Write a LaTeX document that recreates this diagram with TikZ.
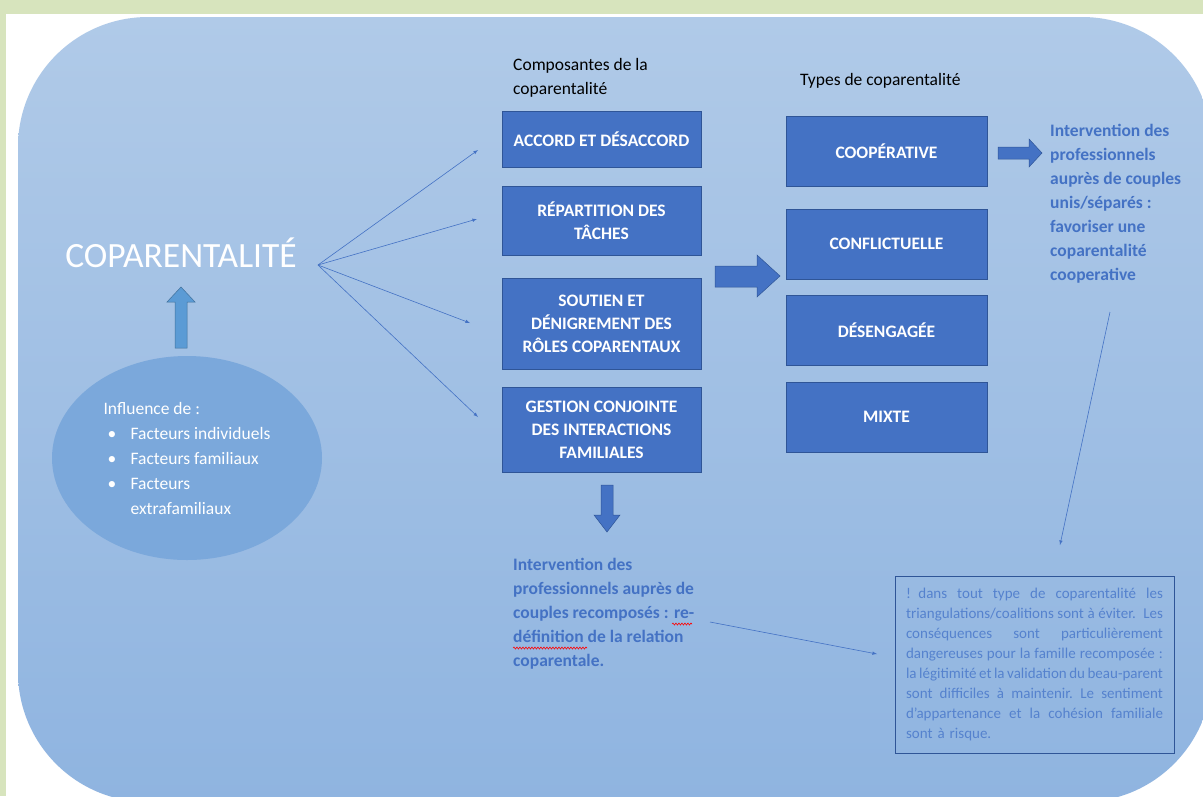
\documentclass[tikz,border=0pt]{standalone}
\usepackage{fontspec}
\setmainfont{Carlito}
\definecolor{cadre}{HTML}{D7E4BD}
\definecolor{fondhaut}{HTML}{B0CAE8}
\definecolor{fondbas}{HTML}{8FB4E0}
\definecolor{bleubox}{HTML}{4472C4}
\definecolor{bordbox}{HTML}{2F5597}
\definecolor{bleuellipse}{HTML}{7BA8DB}
\definecolor{bleuclair}{HTML}{5B9BD5}
\definecolor{bordclair}{HTML}{41719C}
\definecolor{textebleu}{HTML}{4472C4}
\definecolor{textenote}{HTML}{5582CE}
\usetikzlibrary{shapes, shapes.geometric, arrows, decorations.pathmorphing, backgrounds, calc}

\newcommand\ligne[1]{\leavevmode\hbox to 257pt{\spaceskip=0.22em plus 1fil minus 0.08em\relax #1}}

\tikzset{
    composante/.style = {rectangle, fill = bleubox, draw = bordbox, text = white, font = \bfseries\fontsize{17.5}{23}\selectfont, align = center, minimum width = 199pt, inner sep = 0pt},
    typebox/.style = {composante, minimum width = 201pt, minimum height = 70pt},
    fleche/.style = {draw = bleubox, line width = 0.6pt, -latex},
    bloc/.style = {fill = bleubox, draw = bordbox, line width = 0.5pt},
    intervention/.style = {anchor = north west, align = left, text = textebleu, font = \bfseries\fontsize{17.5}{24}\selectfont, inner sep = 0pt},
    vague/.style = {draw = red, line width = 0.6pt, decorate, decoration = {snake, amplitude = 1pt, segment length = 3pt}}
}

\begin{document}
\begin{tikzpicture}[x = 1pt, y = -1pt]
        \useasboundingbox (0,0) rectangle (1203,796);
        \clip (0,0) rectangle (1203,796);

        \fill [cadre] (0,0) rectangle (1203,796);
        \fill [white] (6,14) rectangle (1203,796);
        \shade [top color = fondhaut, bottom color = fondbas, rounded corners = 130pt] (18,17) rectangle (1212,802);

        \node (titre) [anchor = base, text = white, font = \fontsize{35.5}{36}\selectfont] at (181,267) {COPARENTALITÉ};

        \node (influence) [ellipse, fill = bleuellipse, minimum width = 270pt, minimum height = 204pt, inner sep = 0pt, text = white, align = left, font = \fontsize{17.5}{25}\selectfont] at (187,458)
            {Influence de :\\
             \hspace*{4pt}\makebox[23pt][l]{\textbullet}Facteurs individuels\\
             \hspace*{4pt}\makebox[23pt][l]{\textbullet}Facteurs familiaux\\
             \hspace*{4pt}\makebox[23pt][l]{\textbullet}Facteurs\\
             \hspace*{27pt}extrafamiliaux};

        \draw [bloc, fill = bleuclair, draw = bordclair] (175,348) -- (175,302) -- (167,302) -- (181,287) -- (195,302) -- (187,302) -- (187,348) -- cycle;

        \node (entete) [anchor = north west, align = left, inner sep = 0pt, font = \fontsize{17.5}{24}\selectfont] at (513,58) {Composantes de la\\coparentalité};
        \node (types) [anchor = base west, inner sep = 0pt, font = \fontsize{17.5}{24}\selectfont] at (800,85) {Types de coparentalité};

        \node (accord) [composante, minimum height = 56pt] at (601.5,139) {ACCORD ET DÉSACCORD};
        \node (repartition) [composante, minimum height = 69pt] at (601.5,220.5) {RÉPARTITION DES\\TÂCHES};
        \node (soutien) [composante, minimum height = 91pt] at (601.5,323.5) {SOUTIEN ET\\DÉNIGREMENT DES\\RÔLES COPARENTAUX};
        \node (gestion) [composante, minimum height = 85pt] at (601.5,429.5) {GESTION CONJOINTE\\DES INTERACTIONS\\FAMILIALES};

        \foreach \nom/\y/\txt in {coop/151/COOPÉRATIVE, conflit/244/CONFLICTUELLE, desengage/330/DÉSENGAGÉE, mixte/417/MIXTE}
        {
            \node (\nom) [typebox] at (886.5,\y) {\txt};
        }

        \coordinate (centre) at (318,265);
        \foreach \i/\x/\y in {1/478/150, 2/477/219, 3/470/323, 4/478/417}
        {
            \coordinate (bout\i) at (\x,\y);
            \draw [fleche] (centre) -- (bout\i);
        }

        \draw [bloc] (715,266) -- (757,266) -- (757,255) -- (780,276) -- (757,297) -- (757,287) -- (715,287) -- cycle;
        \draw [bloc] (998,147) -- (1029,147) -- (1029,139) -- (1042,153) -- (1029,167) -- (1029,159) -- (998,159) -- cycle;
        \draw [bloc] (601,485) -- (613,485) -- (613,515) -- (620,515) -- (607,532) -- (594,515) -- (601,515) -- cycle;

        \node (unis) [intervention] at (1050,124) {Intervention des\\professionnels\\auprès de couples\\unis/séparés :\\favoriser une\\coparentalité\\cooperative};
        \node (recomposes) [intervention] at (513,558) {Intervention des\\professionnels auprès de\\couples recomposés : re-\\définition de la relation\\coparentale.};
        \draw [vague] (672,624) -- (692,624);
        \draw [vague] (513,648) -- (587,648);

        \node (risque) [rectangle, draw = bordbox, line width = 0.4pt, minimum width = 279pt, minimum height = 177pt, text width = 257pt, align = left, text = textenote, font = \fontsize{15}{20.1}\selectfont] at (1034.5,664.5)
            {\ligne{! dans tout type de coparentalité les}\\
             \ligne{triangulations/coalitions sont à éviter. Les}\\
             \ligne{conséquences sont particulièrement}\\
             \ligne{dangereuses pour la famille recomposée :}\\
             \ligne{la légitimité et la validation du beau-parent}\\
             \ligne{sont difficiles à maintenir. Le sentiment}\\
             \ligne{d'appartenance et la cohésion familiale}\\
             sont à risque.};

        \coordinate (departunis) at (1110,312);
        \coordinate (arriveeunis) at (1060,545);
        \draw [fleche] (departunis) -- (arriveeunis);
        \coordinate (departrecomp) at (710,622);
        \coordinate (arriveerecomp) at (877,654);
        \draw [fleche] (departrecomp) -- (arriveerecomp);
\end{tikzpicture}
\end{document}
